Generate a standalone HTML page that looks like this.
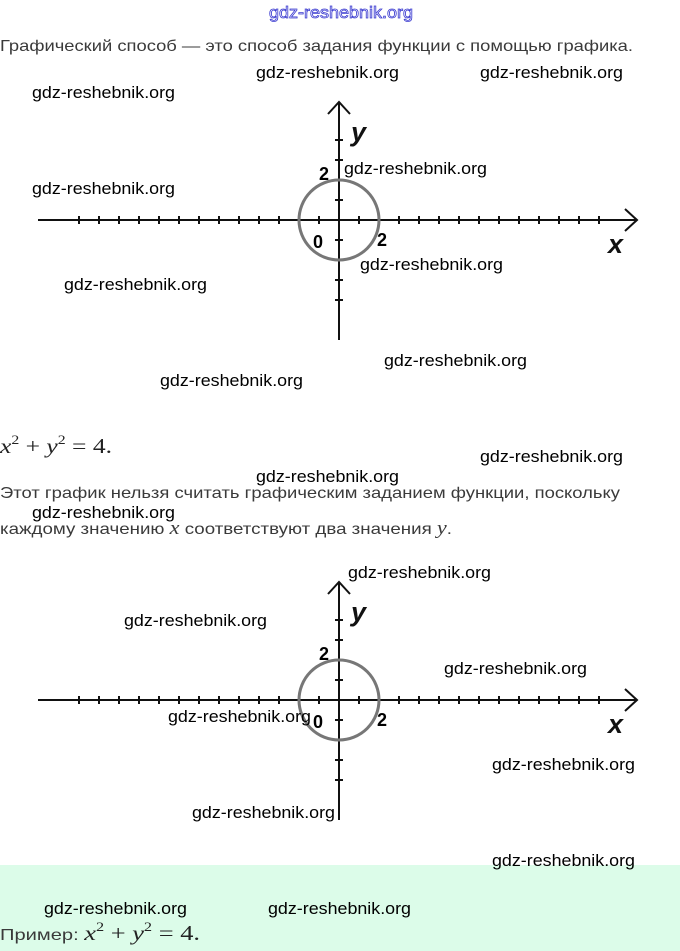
<!DOCTYPE html>
<html><head><meta charset="utf-8"><style>
html,body{margin:0;padding:0;background:#fff;width:680px;height:951px;overflow:hidden}
svg{display:block}
.t{font-family:"Liberation Sans",sans-serif;font-size:16px;fill:#3a3a3a}
.w{font-family:"Liberation Sans",sans-serif;font-size:17px;fill:#000}
.lbl{font-family:"Liberation Sans",sans-serif;font-size:18px;fill:#000}
</style></head><body>
<svg width="680" height="951" viewBox="0 0 680 951" xmlns="http://www.w3.org/2000/svg">
<defs>
<g id="graph">
  <line x1="38" y1="0" x2="636" y2="0" stroke="#111" stroke-width="2"/>
  <polyline points="625,-11 637,0 625,11" fill="none" stroke="#111" stroke-width="2"/>
  <line x1="339" y1="-117" x2="339" y2="120" stroke="#111" stroke-width="2"/>
  <polyline points="328,-106 339,-118 350,-106" fill="none" stroke="#111" stroke-width="2"/>
  <g stroke="#111" stroke-width="2">
    <path d="M79,-4v8M99,-4v8M119,-4v8M139,-4v8M159,-4v8M179,-4v8M199,-4v8M219,-4v8M239,-4v8M259,-4v8M279,-4v8M299,-4v8M319,-4v8M359,-4v8M379,-4v8M399,-4v8M419,-4v8M439,-4v8M459,-4v8M479,-4v8M499,-4v8M519,-4v8M539,-4v8M559,-4v8M579,-4v8M599,-4v8"/>
    <path d="M335,-80h8M335,-60h8M335,-40h8M335,-20h8M335,20h8M335,40h8M335,60h8M335,80h8"/>
  </g>
  <circle cx="339" cy="0" r="40" fill="none" stroke="#777" stroke-width="3"/>
  <text class="lbl" x="319" y="-40" font-weight="bold">2</text>
  <text class="lbl" x="313" y="28" font-size="21" font-weight="bold">0</text>
  <text class="lbl" x="377" y="26" font-weight="bold">2</text>
  <text x="608" y="33" font-family="Liberation Sans,sans-serif" font-size="27" font-style="italic" font-weight="bold" fill="#111">x</text>
  <text x="351" y="-79" font-family="Liberation Sans,sans-serif" font-size="27" font-style="italic" font-weight="bold" fill="#111">y</text>
</g>
</defs>
<rect x="0" y="865" width="680" height="86" fill="#dcfce9"/>
<use href="#graph" transform="translate(0,220)"/>
<use href="#graph" transform="translate(0,700)"/>

<text class="t" x="0" y="51" textLength="633" lengthAdjust="spacingAndGlyphs">Графический способ — это способ задания функции с помощью графика.</text>
<text x="0" y="453" font-family="Liberation Serif,serif" font-size="21" fill="#222" textLength="112" lengthAdjust="spacingAndGlyphs"><tspan font-style="italic">x</tspan><tspan style="font-size:13px" dy="-9">2</tspan><tspan dy="9"> + </tspan><tspan font-style="italic">y</tspan><tspan style="font-size:13px" dy="-9">2</tspan><tspan dy="9"> = 4.</tspan></text>
<text class="t" x="0" y="498" textLength="620" lengthAdjust="spacingAndGlyphs">Этот график нельзя считать графическим заданием функции, поскольку</text>
<text class="t" x="0" y="534" textLength="452" lengthAdjust="spacingAndGlyphs">каждому значению <tspan font-family="Liberation Serif,serif" font-style="italic" style="font-size:19px">x</tspan> соответствуют два значения <tspan font-family="Liberation Serif,serif" font-style="italic" style="font-size:19px">y</tspan>.</text>
<text x="0" y="940" textLength="200" lengthAdjust="spacingAndGlyphs" font-family="Liberation Sans,sans-serif" font-size="16" fill="#3a3a3a">Пример: <tspan font-family="Liberation Serif,serif" style="font-size:21px" font-style="italic" fill="#222">x</tspan><tspan font-family="Liberation Serif,serif" style="font-size:13px" dy="-9" fill="#222">2</tspan><tspan font-family="Liberation Serif,serif" style="font-size:21px" dy="9" fill="#222"> + </tspan><tspan font-family="Liberation Serif,serif" style="font-size:21px" font-style="italic" fill="#222">y</tspan><tspan font-family="Liberation Serif,serif" style="font-size:13px" dy="-9" fill="#222">2</tspan><tspan font-family="Liberation Serif,serif" style="font-size:21px" dy="9" fill="#222"> = 4.</tspan></text>

<text x="269" y="18" font-family="Liberation Sans,sans-serif" font-size="17" fill="#fff" stroke="#3b3bd0" stroke-width="0.8" textLength="144" lengthAdjust="spacingAndGlyphs">gdz-reshebnik.org</text>
<g class="w">
<text x="256" y="78" textLength="143" lengthAdjust="spacingAndGlyphs">gdz-reshebnik.org</text>
<text x="480" y="78" textLength="143" lengthAdjust="spacingAndGlyphs">gdz-reshebnik.org</text>
<text x="32" y="98" textLength="143" lengthAdjust="spacingAndGlyphs">gdz-reshebnik.org</text>
<text x="32" y="194" textLength="143" lengthAdjust="spacingAndGlyphs">gdz-reshebnik.org</text>
<text x="344" y="174" textLength="143" lengthAdjust="spacingAndGlyphs">gdz-reshebnik.org</text>
<text x="360" y="270" textLength="143" lengthAdjust="spacingAndGlyphs">gdz-reshebnik.org</text>
<text x="64" y="290" textLength="143" lengthAdjust="spacingAndGlyphs">gdz-reshebnik.org</text>
<text x="384" y="366" textLength="143" lengthAdjust="spacingAndGlyphs">gdz-reshebnik.org</text>
<text x="160" y="386" textLength="143" lengthAdjust="spacingAndGlyphs">gdz-reshebnik.org</text>
<text x="480" y="462" textLength="143" lengthAdjust="spacingAndGlyphs">gdz-reshebnik.org</text>
<text x="256" y="482" textLength="143" lengthAdjust="spacingAndGlyphs">gdz-reshebnik.org</text>
<text x="32" y="518" textLength="143" lengthAdjust="spacingAndGlyphs">gdz-reshebnik.org</text>
<text x="348" y="578" textLength="143" lengthAdjust="spacingAndGlyphs">gdz-reshebnik.org</text>
<text x="124" y="626" textLength="143" lengthAdjust="spacingAndGlyphs">gdz-reshebnik.org</text>
<text x="444" y="674" textLength="143" lengthAdjust="spacingAndGlyphs">gdz-reshebnik.org</text>
<text x="168" y="722" textLength="143" lengthAdjust="spacingAndGlyphs">gdz-reshebnik.org</text>
<text x="492" y="770" textLength="143" lengthAdjust="spacingAndGlyphs">gdz-reshebnik.org</text>
<text x="192" y="818" textLength="143" lengthAdjust="spacingAndGlyphs">gdz-reshebnik.org</text>
<text x="492" y="866" textLength="143" lengthAdjust="spacingAndGlyphs">gdz-reshebnik.org</text>
<text x="44" y="914" textLength="143" lengthAdjust="spacingAndGlyphs">gdz-reshebnik.org</text>
<text x="268" y="914" textLength="143" lengthAdjust="spacingAndGlyphs">gdz-reshebnik.org</text>
</g>
</svg>
</body></html>
